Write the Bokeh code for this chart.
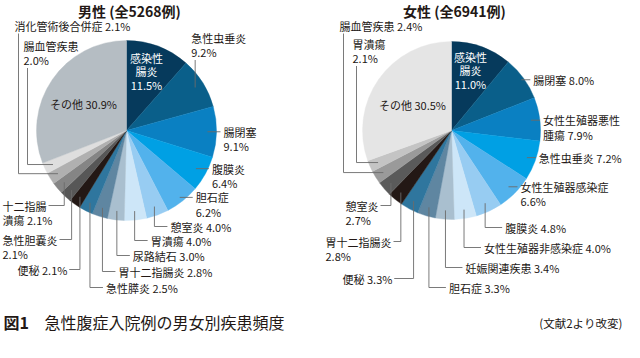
import math
from bokeh.plotting import figure
from bokeh.models import Range1d, ColumnDataSource
from bokeh.core.properties import value
from bokeh.embed import file_html
from bokeh.resources import INLINE

# ---------------- data ----------------
male_title = "男性 (全5268例)"
male_names = ["感染性\n腸炎", "急性虫垂炎", "腸閉塞", "腹膜炎", "胆石症", "憩室炎", "胃潰瘍",
              "尿路結石", "胃十二指腸炎", "急性膵炎", "便秘", "急性胆嚢炎", "十二指腸\n潰瘍",
              "消化管術後合併症", "腸血管疾患", "その他"]
male_values = [11.5, 9.2, 9.1, 6.4, 6.2, 4.0, 4.0, 3.0, 2.8, 2.5, 2.1, 2.1, 2.1, 2.1, 2.0, 30.9]
male_colors = ["#063a5c", "#0a5f8a", "#0a80c2", "#00a0e4", "#52b2ec", "#97ccf2", "#cde6f8",
               "#a9bfcf", "#5f86a1", "#2f769e", "#231815", "#575757", "#858585",
               "#b0b0b0", "#dedede", "#b5bdc3"]

female_title = "女性 (全6941例)"
female_names = ["感染性\n腸炎", "腸閉塞", "女性生殖器悪性\n腫瘍", "急性虫垂炎", "女性生殖器感染症",
                "腹膜炎", "女性生殖器非感染症", "妊娠関連疾患", "胆石症", "便秘", "胃十二指腸炎",
                "憩室炎", "腸血管疾患", "胃潰瘍", "その他"]
female_values = [11.0, 8.0, 7.9, 7.2, 6.6, 4.8, 4.0, 3.4, 3.3, 3.3, 2.8, 2.7, 2.4, 2.1, 30.5]
female_colors = ["#063a5c", "#0a5f8a", "#0a80c2", "#00a0e4", "#52b2ec", "#97ccf2", "#cde6f8",
                 "#a9bfcf", "#5f86a1", "#2f769e", "#231815", "#5a5a5a", "#9a9a9a",
                 "#c4c4c4", "#e5e5e5"]

caption_fig = "図1"
caption_text = "急性腹症入院例の男女別疾患頻度"
caption_src = "(文献2より改変)"

# ---------------- layout ----------------
FONT = value("Noto Sans CJK JP")
TXT = "#231815"
LINE = "#6b6b6b"
LS = 14.5
LS_IN = 13.5

male_layout = [
    dict(kind="in", x=146, y=57, sep="\n", color="white"),
    dict(kind="vt", y=37, sep="\n"),
    dict(kind="h", sep="\n"),
    dict(kind="h", sep="\n", f=0.88),
    dict(kind="h", sep="\n", f=0.95),
    dict(kind="v", y=226, sep=" "),
    dict(kind="v", y=240, sep=" "),
    dict(kind="v", y=255, sep=" "),
    dict(kind="v", y=271, sep=" "),
    dict(kind="v", y=287, sep=" "),
    dict(kind="l", x=17, y=269, sep=" "),
    dict(kind="l", x=2, y=239, sep="\n"),
    dict(kind="l", x=2, y=205, sep=" "),
    dict(kind="u", x=14, y=25, sep=" "),
    dict(kind="u", x=23, y=45, sep="\n"),
    dict(kind="in", x=83, y=103, sep=" ", color=TXT),
]
female_layout = [
    dict(kind="in", x=470, y=56, sep="\n", color="white"),
    dict(kind="h", sep=" ", f=0.97),
    dict(kind="h", sep=" "),
    dict(kind="h", sep=" "),
    dict(kind="h", sep="\n"),
    dict(kind="v", y=227, sep=" "),
    dict(kind="v", y=247, sep=" "),
    dict(kind="v", y=267, sep=" "),
    dict(kind="v", y=287, sep=" "),
    dict(kind="l", x=342, y=278, sep=" "),
    dict(kind="l", x=325, y=241, sep="\n"),
    dict(kind="l", x=345, y=205, sep="\n"),
    dict(kind="u", x=339, y=25, sep=" "),
    dict(kind="u", x=352, y=43, sep="\n"),
    dict(kind="in", x=412, y=104, sep=" ", color=TXT),
]

W, H = 624, 342
p = figure(width=W, height=H, x_range=Range1d(0, 624), y_range=Range1d(16, 358),
           output_backend="svg", toolbar_location=None, min_border=0,
           x_axis_location=None, y_axis_location=None)
p.grid.visible = False
p.outline_line_color = None
p.background_fill_color = "white"


def Y(v):
    return 358 - v


def tw(s, fs=11.0):
    w = 0
    for c in s:
        if ord(c) > 255:
            w += fs
        elif c == " ":
            w += fs * 0.28
        elif c == ".":
            w += fs * 0.26
        elif c == "%":
            w += fs * 0.86
        else:
            w += fs * 0.56
    return w


def draw_pie(cx, cy, r, names, values, colors, layouts, title, h_gap, v_gap, f=0.9):
    total = sum(values)
    cum = 0.0
    st, en, mids = [], [], []
    for v in values:
        s = cum / total
        cum += v
        e = cum / total
        st.append(math.pi / 2 - 2 * math.pi * e)
        en.append(math.pi / 2 - 2 * math.pi * s)
        mids.append((s + e) / 2)
    src = ColumnDataSource(dict(x=[cx] * len(values), y=[Y(cy)] * len(values),
                                s=st, e=en, c=colors))
    p.wedge(x="x", y="y", radius=r, start_angle="s", end_angle="e", direction="anticlock",
            fill_color="c", line_color="c", line_width=0.4, source=src)

    tx, ty, tt, tal, tcol = [], [], [], [], []
    lxs, lys = [], []
    for i, lay in enumerate(layouts):
        a = math.pi / 2 - 2 * math.pi * mids[i]
        ff = lay.get("f", f)
        ax = cx + ff * r * math.cos(a)
        ay = cy - ff * r * math.sin(a)
        lines = (names[i] + lay["sep"] + f"{values[i]:.1f}%").split("\n")
        n = len(lines)
        k = lay["kind"]
        color = lay.get("color", TXT)
        align = "left"
        step = LS
        if k == "in":
            lx, ly, align, step = lay["x"], lay["y"], "center", LS_IN
        elif k == "h":
            lx, ly = ax + h_gap, ay
            lxs.append([ax, lx - 3]); lys.append([ay, ay])
        elif k == "vt":
            lx, ly = ax - 4, lay["y"]
            lxs.append([ax, ax]); lys.append([ly + (n - 1) * LS + 8, ay])
        elif k == "v":
            lx, ly = ax + v_gap, lay["y"]
            lxs.append([ax, ax, lx - 3]); lys.append([ay, ly, ly])
        elif k == "l":
            lx, ly = lay["x"], lay["y"]
            right = lx + tw(lines[0]) + 2
            lxs.append([ax, ax, right]); lys.append([ay, ly, ly])
        elif k == "u":
            lx, ly = lay["x"], lay["y"]
            vx = lx + 4
            lxs.append([vx, vx, ax]); lys.append([ly + (n - 1) * LS + 8, ay, ay])
        for j, t in enumerate(lines):
            tx.append(lx); ty.append(Y(ly + j * step)); tt.append(t)
            tal.append(align); tcol.append(color)

    p.multi_line(xs=lxs, ys=[[Y(v) for v in ys] for ys in lys],
                 line_color=LINE, line_width=0.9)
    tsrc = ColumnDataSource(dict(x=tx, y=ty, t=tt, a=tal, c=tcol))
    p.text(x="x", y="y", text="t", text_align="a", text_color="c", text_baseline="middle",
           text_font=FONT, text_font_size="11px", source=tsrc)
    p.text(x=[cx + 3], y=[Y(10)], text=[title], text_align="center", text_baseline="middle",
           text_font=FONT, text_font_size="14px", text_font_style="bold", text_color=TXT)


draw_pie(126, 130, 90, male_names, male_values, male_colors, male_layout, male_title,
         h_gap=16, v_gap=16)
draw_pie(451, 130, 89, female_names, female_values, female_colors, female_layout, female_title,
         h_gap=12, v_gap=20)

p.text(x=[3], y=[Y(321)], text=[caption_fig], text_baseline="middle", text_font=FONT,
       text_font_size="16px", text_font_style="bold", text_color=TXT)
p.text(x=[44], y=[Y(321)], text=[caption_text], text_baseline="middle", text_font=FONT,
       text_font_size="16px", text_color=TXT)
p.text(x=[622], y=[Y(322)], text=[caption_src], text_align="right", text_baseline="middle",
       text_font=FONT, text_font_size="11.5px", text_color=TXT)

open("out.html", "w").write(file_html(p, INLINE))
